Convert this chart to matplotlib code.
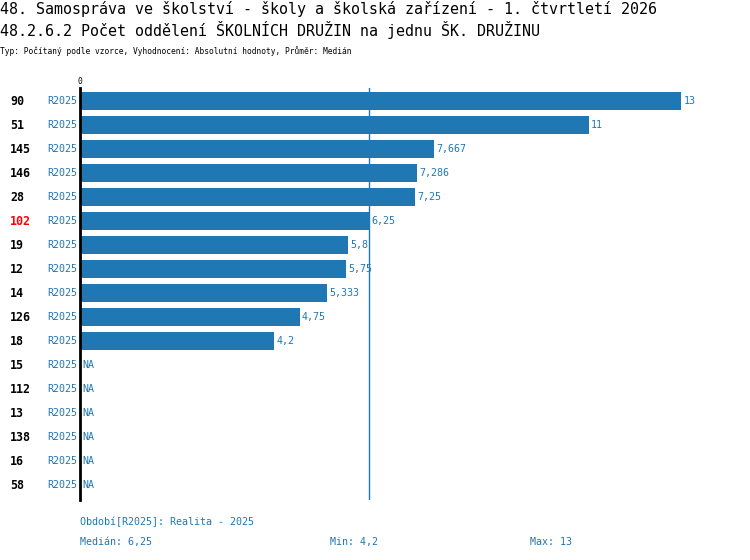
import numpy as np
import matplotlib
matplotlib.use("Agg")
import matplotlib.pyplot as plt

plt.rcParams['font.family'] = ['DejaVu Sans Mono', 'DejaVu Sans']

ids = ["90", "51", "145", "146", "28", "102", "19", "12", "14", "126", "18",
       "15", "112", "13", "138", "16", "58"]
period = "R2025"
values = [13, 11, 7.667, 7.286, 7.25, 6.25, 5.8, 5.75, 5.333, 4.75, 4.2,
          None, None, None, None, None, None]
value_labels = ["13", "11", "7,667", "7,286", "7,25", "6,25", "5,8", "5,75",
                "5,333", "4,75", "4,2", "NA", "NA", "NA", "NA", "NA", "NA"]
highlight = "102"
median = 6.25
vmin = 4.2
vmax = 13

blue = "#1f77b4"
W, H = 750, 560
fig = plt.figure(figsize=(W / 100, H / 100), dpi=100)

# axes area in pixels
ax_l, ax_r, ax_t, ax_b = 80, 750, 88, 500
ax = fig.add_axes([ax_l / W, 1 - ax_b / H, (ax_r - ax_l) / W, (ax_b - ax_t) / H])
px_per_unit = (681 - 80) / 13
ax.set_xlim(0, (ax_r - ax_l) / px_per_unit)
ax.set_ylim(16 + (ax_b - 485) / 24, -(101 - ax_t) / 24)

y = np.arange(len(ids))
vals = [v if v is not None else 0 for v in values]
ax.barh(y, vals, height=18 / 24, color=blue)

ax.axvline(median, color=blue, lw=1)

for s in ["top", "right", "bottom"]:
    ax.spines[s].set_visible(False)
ax.spines["left"].set_linewidth(2)
ax.spines["left"].set_color("black")
ax.set_xticks([])
ax.set_yticks([])

for i, (lab, v, vl) in enumerate(zip(ids, vals, value_labels)):
    ax.text(v + 0.05, i, vl, va="center", ha="left", fontsize=7.2, color=blue)
    ax.text(-0.07, i, period, va="center", ha="right", fontsize=7.2, color=blue,
            clip_on=False)
    ax.text(-70 / px_per_unit, i, lab, va="center", ha="left", fontsize=8.4,
            fontweight="bold", color="red" if lab == highlight else "black",
            clip_on=False)

fig.text(0, 1 - 9 / H, "48. Samospráva ve školství - školy a školská zařízení - 1. čtvrtletí 2026",
         fontsize=10.8, va="center", ha="left")
fig.text(0, 1 - 30 / H, "48.2.6.2 Počet oddělení ŠKOLNÍCH DRUŽIN na jednu ŠK. DRUŽINU",
         fontsize=10.8, va="center", ha="left")
fig.text(0, 1 - 51 / H, "Typ: Počítaný podle vzorce, Vyhodnocení: Absolutní hodnoty, Průměr: Medián",
         fontsize=5.7, va="center", ha="left")
fig.text(78 / W, 1 - 81 / H, "0", fontsize=5.7, va="center", ha="left")

fig.text(80 / W, 1 - 522 / H, "Období[R2025]: Realita - 2025", fontsize=7.2,
         color=blue, va="center", ha="left")
fig.text(80 / W, 1 - 542 / H, "Medián: " + str(median).replace(".", ","), fontsize=7.2,
         color=blue, va="center", ha="left")
fig.text(330 / W, 1 - 542 / H, "Min: " + str(vmin).replace(".", ","), fontsize=7.2,
         color=blue, va="center", ha="left")
fig.text(530 / W, 1 - 542 / H, "Max: " + str(vmax), fontsize=7.2,
         color=blue, va="center", ha="left")

fig.savefig("out.png", dpi=100)
